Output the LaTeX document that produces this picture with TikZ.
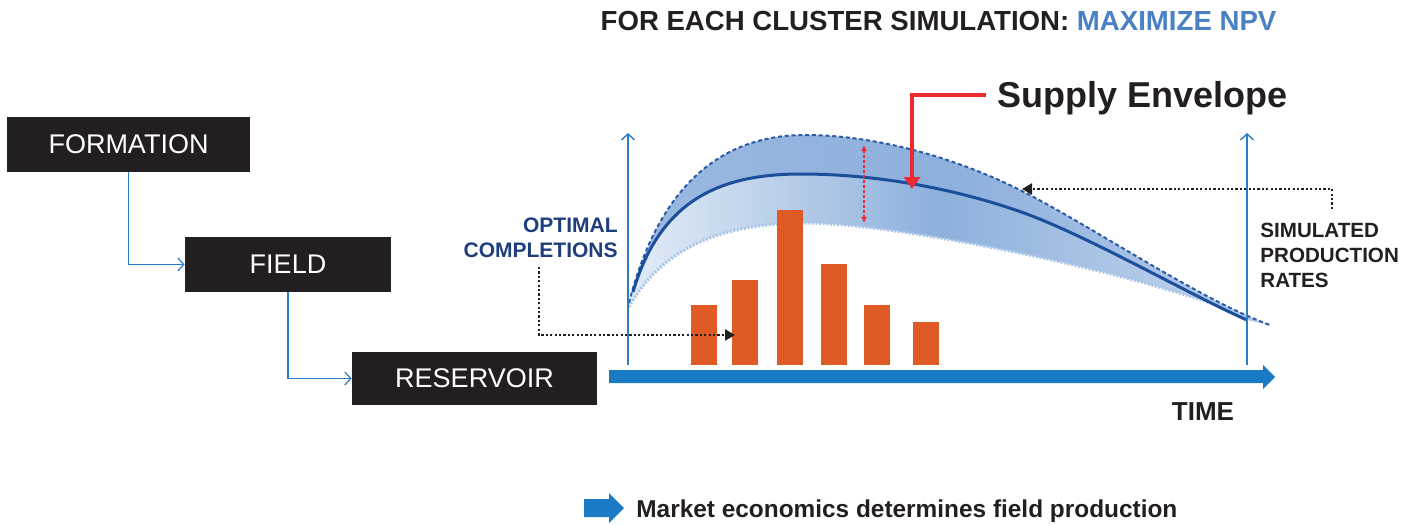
\documentclass[tikz,border=0pt]{standalone}
\usepackage{fontspec}
\setmainfont{Liberation Sans}
\usetikzlibrary{arrows.meta}
\definecolor{boxblack}{HTML}{231F20}
\definecolor{txtgray}{HTML}{231F20}
\definecolor{npvblue}{HTML}{4A80C4}
\definecolor{lineblue}{HTML}{2A7DC6}
\definecolor{axisblue}{HTML}{1A7BC4}
\definecolor{curveblue}{HTML}{1B4E9B}
\definecolor{dashblue}{HTML}{2B5BA7}
\definecolor{dotblue}{HTML}{A9C5E8}
\definecolor{envlight}{HTML}{E3ECF7}
\definecolor{envmid}{HTML}{8DB0DC}
\definecolor{envright}{HTML}{C4D6EE}
\definecolor{upleft}{HTML}{9BB9E1}
\definecolor{upright}{HTML}{B7CCEA}
\definecolor{optblue}{HTML}{1E3F7C}
\definecolor{barorange}{HTML}{E05A25}
\definecolor{supred}{HTML}{EE2A2E}
\begin{document}
\begin{tikzpicture}[x=0.5pt,y=-0.5pt,
  stagebox/.style={fill=boxblack, text=white, minimum height=27.5pt, inner sep=0pt,
    font=\fontsize{13.5}{16}\selectfont},
  conn/.style={draw=lineblue, line width=0.6pt, -{Straight Barb[length=3pt,width=6.5pt]}},
  yaxis/.style={draw=lineblue, line width=0.7pt, -{Straight Barb[length=3pt,width=6.5pt]}},
  dotarrow/.style={draw=txtgray, line width=1.3pt, dash pattern=on 1.1pt off 1.1pt,
    -{Triangle[length=5pt,width=5.5pt]}},
  redarrow/.style={draw=supred, line width=2pt, -{Triangle[length=6pt,width=8pt]}},
  reddash/.style={draw=supred, line width=0.6pt, dash pattern=on 1.5pt off 1pt,
    {Latex[length=3pt,width=3pt]}-{Latex[length=3pt,width=3pt]}},
  bar/.style={fill=barorange}]
\useasboundingbox (0,0) rectangle (1420,525);

% title
\node[anchor=base, inner sep=0, text=txtgray, font=\fontsize{13.8}{16}\bfseries\selectfont]
  (title) at (938.5,30.5) {FOR EACH CLUSTER SIMULATION: \textcolor{npvblue}{MAXIMIZE NPV}};

% stage boxes
\node[stagebox, minimum width=121.5pt] (formation) at (128.5,144.5) {FORMATION};
\node[stagebox, minimum width=103pt] (field) at (288,264.5) {FIELD};
\node[stagebox, minimum width=122.5pt, minimum height=26.5pt] (reservoir) at (474.5,378.5) {RESERVOIR};
\draw[conn] (formation.south) |- (field.west);
\draw[conn] (field.south) |- (reservoir.west);

% envelope: upper band
\shade[left color=upleft, right color=upright, middle color=envmid]
  (629,303) .. controls (655,200) and (710,135) .. (805,135)
  .. controls (880,135) and (960,160) .. (1020,190)
  .. controls (1090,225) and (1200,300) .. (1270,325)
  -- (1247,320) .. controls (1190,295) and (1090,237) .. (1024,213)
  .. controls (960,190) and (880,174) .. (801,174)
  .. controls (720,174) and (660,200) .. (633,292) -- cycle;
% envelope: lower band
\shade[left color=envlight, right color=envright, middle color=envmid]
  (633,292) .. controls (660,200) and (720,174) .. (801,174)
  .. controls (880,174) and (960,190) .. (1024,213)
  .. controls (1090,237) and (1190,295) .. (1247,320)
  -- (1247,317) .. controls (1150,275) and (900,223) .. (805,223)
  .. controls (720,223) and (660,250) .. (629,307) -- cycle;
% envelope lines
\draw[dotblue, line width=1.5pt, dash pattern=on 1pt off 0.8pt]
  (629,307) .. controls (660,250) and (720,223) .. (805,223)
  .. controls (900,223) and (1150,275) .. (1247,317);
\draw[dashblue, line width=1pt, dash pattern=on 2pt off 1.4pt]
  (629,303) .. controls (655,200) and (710,135) .. (805,135)
  .. controls (880,135) and (960,160) .. (1020,190)
  .. controls (1090,225) and (1200,300) .. (1270,325);
\draw[curveblue, line width=1.5pt]
  (633,292) .. controls (660,200) and (720,174) .. (801,174)
  .. controls (880,174) and (960,190) .. (1024,213)
  .. controls (1090,237) and (1190,295) .. (1247,320);

% vertical axes
\coordinate (yl0) at (628,365); \coordinate (yl1) at (628,133);
\coordinate (yr0) at (1247,365); \coordinate (yr1) at (1247,133);
\draw[yaxis] (yl0) -- (yl1);
\draw[yaxis] (yr0) -- (yr1);

% bars
\fill[bar] (691,305) rectangle (717,365);
\fill[bar] (732,280) rectangle (758,365);
\fill[bar] (777,210) rectangle (803,365);
\fill[bar] (821,264) rectangle (847,365);
\fill[bar] (864,305) rectangle (890,365);
\fill[bar] (913,322) rectangle (939,365);

% time axis
\fill[axisblue] (609,370) -- (1263,370) -- (1263,365) -- (1275,377) -- (1263,389)
  -- (1263,383) -- (609,383) -- cycle;
\node[anchor=base, inner sep=0, text=txtgray, font=\fontsize{13}{15}\bfseries\selectfont]
  (time) at (1203,420) {TIME};

% supply envelope label
\node[anchor=base west, inner sep=0, text=txtgray, font=\fontsize{18}{21}\bfseries\selectfont]
  (supply) at (997,107) {Supply Envelope};
\coordinate (rs) at (986,95); \coordinate (re) at (912,189);
\draw[redarrow] (rs) -| (re);
\coordinate (ra) at (864,145); \coordinate (rb) at (864,223);
\draw[reddash] (ra) -- (rb);

% optimal completions
\node[anchor=base east, align=right, inner sep=0, text=optblue,
  font=\fontsize{10.5}{12.5}\bfseries\selectfont] (optc) at (618,257) {OPTIMAL\\COMPLETIONS};
\coordinate (oc0) at (539,267); \coordinate (oc1) at (735,335);
\draw[dotarrow] (oc0) |- (oc1);

% simulated production rates
\node[anchor=base west, align=left, inner sep=0, text=txtgray,
  font=\fontsize{10.3}{12.5}\bfseries\selectfont] (simp) at (1260,287) {SIMULATED\\PRODUCTION\\RATES};
\coordinate (sp0) at (1332,209); \coordinate (sp1) at (1022,189);
\draw[dotarrow] (sp0) |- (sp1);

% legend
\fill[axisblue] (584,499) -- (609,499) -- (609,493) -- (624,508) -- (609,523)
  -- (609,517) -- (584,517) -- cycle;
\node[anchor=base west, inner sep=0, text=txtgray, font=\fontsize{12.2}{14}\bfseries\selectfont]
  (legend) at (636,517) {Market economics determines field production};
\end{tikzpicture}
\end{document}
